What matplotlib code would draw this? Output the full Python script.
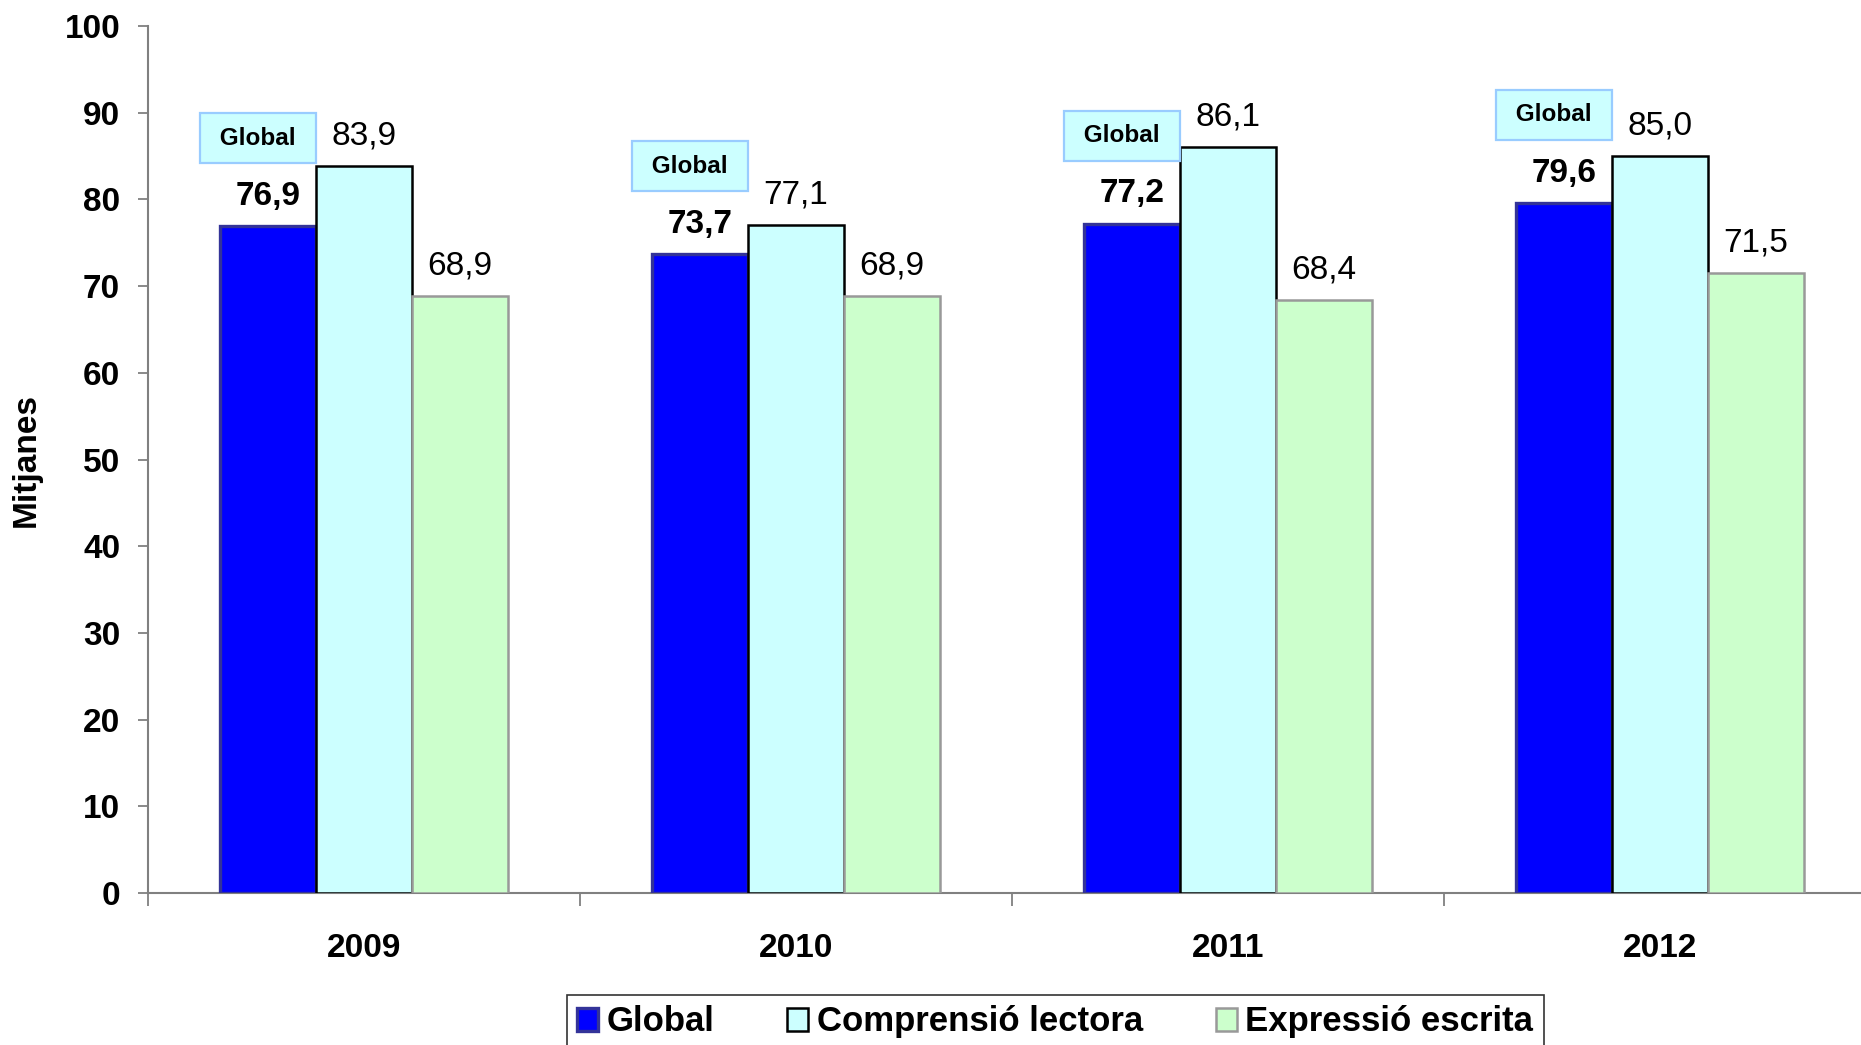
import numpy as np
import matplotlib; matplotlib.use("Agg")
import matplotlib.pyplot as plt
from matplotlib.patches import Patch

years = ["2009", "2010", "2011", "2012"]
series = ["Global", "Comprensió lectora", "Expressió escrita"]
global_vals = [76.9, 73.7, 77.2, 79.6]
compr_vals = [83.9, 77.1, 86.1, 85.0]
expr_vals = [68.9, 68.9, 68.4, 71.5]
y_ticks = [0, 10, 20, 30, 40, 50, 60, 70, 80, 90, 100]

faces = ["#0000FF", "#CCFFFF", "#CCFFCC"]
edges = ["#333399", "#000000", "#999999"]
lws = [2.4, 1.8, 1.8]

plt.rcParams["font.family"] = ["Liberation Sans", "DejaVu Sans"]

W, H = 1861, 1045
fig = plt.figure(figsize=(W / 100, H / 100), dpi=100)
ax = fig.add_axes([148 / W, 152 / H, 1728 / W, 867 / H])

x = np.arange(len(years))
bw = 0.2225
vals = [global_vals, compr_vals, expr_vals]
for i, (v, fc, ec, lw) in enumerate(zip(vals, faces, edges, lws)):
    xs = x + (i - 1) * bw
    ax.bar(xs, v, bw, color=fc, edgecolor=ec, linewidth=lw, zorder=3)
    for xi, vi in zip(xs, v):
        ax.annotate(f"{vi:.1f}".replace(".", ","), (xi, vi), xytext=(0, 21.5), textcoords="offset points",
                    ha="center", va="center", fontsize=24,
                    fontweight="bold" if i == 0 else "normal", zorder=5)

# "Global" call-out boxes above the global bars
for xi, vi in zip(x - bw, global_vals):
    ax.annotate(" Global ", (xi, vi + 10.3), xytext=(-7, -1), textcoords="offset points",
                ha="center", va="center", fontsize=17.5, fontweight="bold", zorder=6,
                bbox=dict(boxstyle="square,pad=0.55", fc="#CCFFFF", ec="#99CCFF", lw=1.6))

ax.set_xlim(-0.5, 3.5)
ax.set_ylim(0, 100)
ax.set_yticks(y_ticks)
ax.set_yticklabels([str(t) for t in y_ticks], fontsize=24, fontweight="bold")
ax.tick_params(axis="y", length=7, width=1.3, color="#808080", pad=13)

ax.set_xticks(np.arange(-0.5, 4.0, 1.0))
ax.set_xticklabels([])
ax.tick_params(axis="x", which="major", length=9, width=1.3, color="#808080")
ax.set_xticks(x, minor=True)
ax.set_xticklabels(years, minor=True, fontsize=24, fontweight="bold")
ax.tick_params(axis="x", which="minor", length=0, pad=29)

for s in ["top", "right"]:
    ax.spines[s].set_visible(False)
for s in ["left", "bottom"]:
    ax.spines[s].set_color("#808080")
    ax.spines[s].set_linewidth(1.5)

fig.text(26 / W, 1 - 460 / H, "Mitjanes", rotation=90, ha="center", va="center",
         fontsize=24, fontweight="bold")

handles = [Patch(facecolor=fc, edgecolor=ec, linewidth=lw) for fc, ec, lw in zip(faces, edges, lws)]
leg = fig.legend(handles, series, loc="upper center", bbox_to_anchor=(0.567, 1 - 995 / H), ncol=3,
                 frameon=True, fancybox=False, edgecolor="#000000",
                 prop={"weight": "bold", "size": 25}, handlelength=0.6, handleheight=0.65,
                 handletextpad=0.25, columnspacing=2.1, borderpad=0.3, borderaxespad=0)
leg.get_frame().set_linewidth(1.2)

fig.savefig("out.png", dpi=100)
